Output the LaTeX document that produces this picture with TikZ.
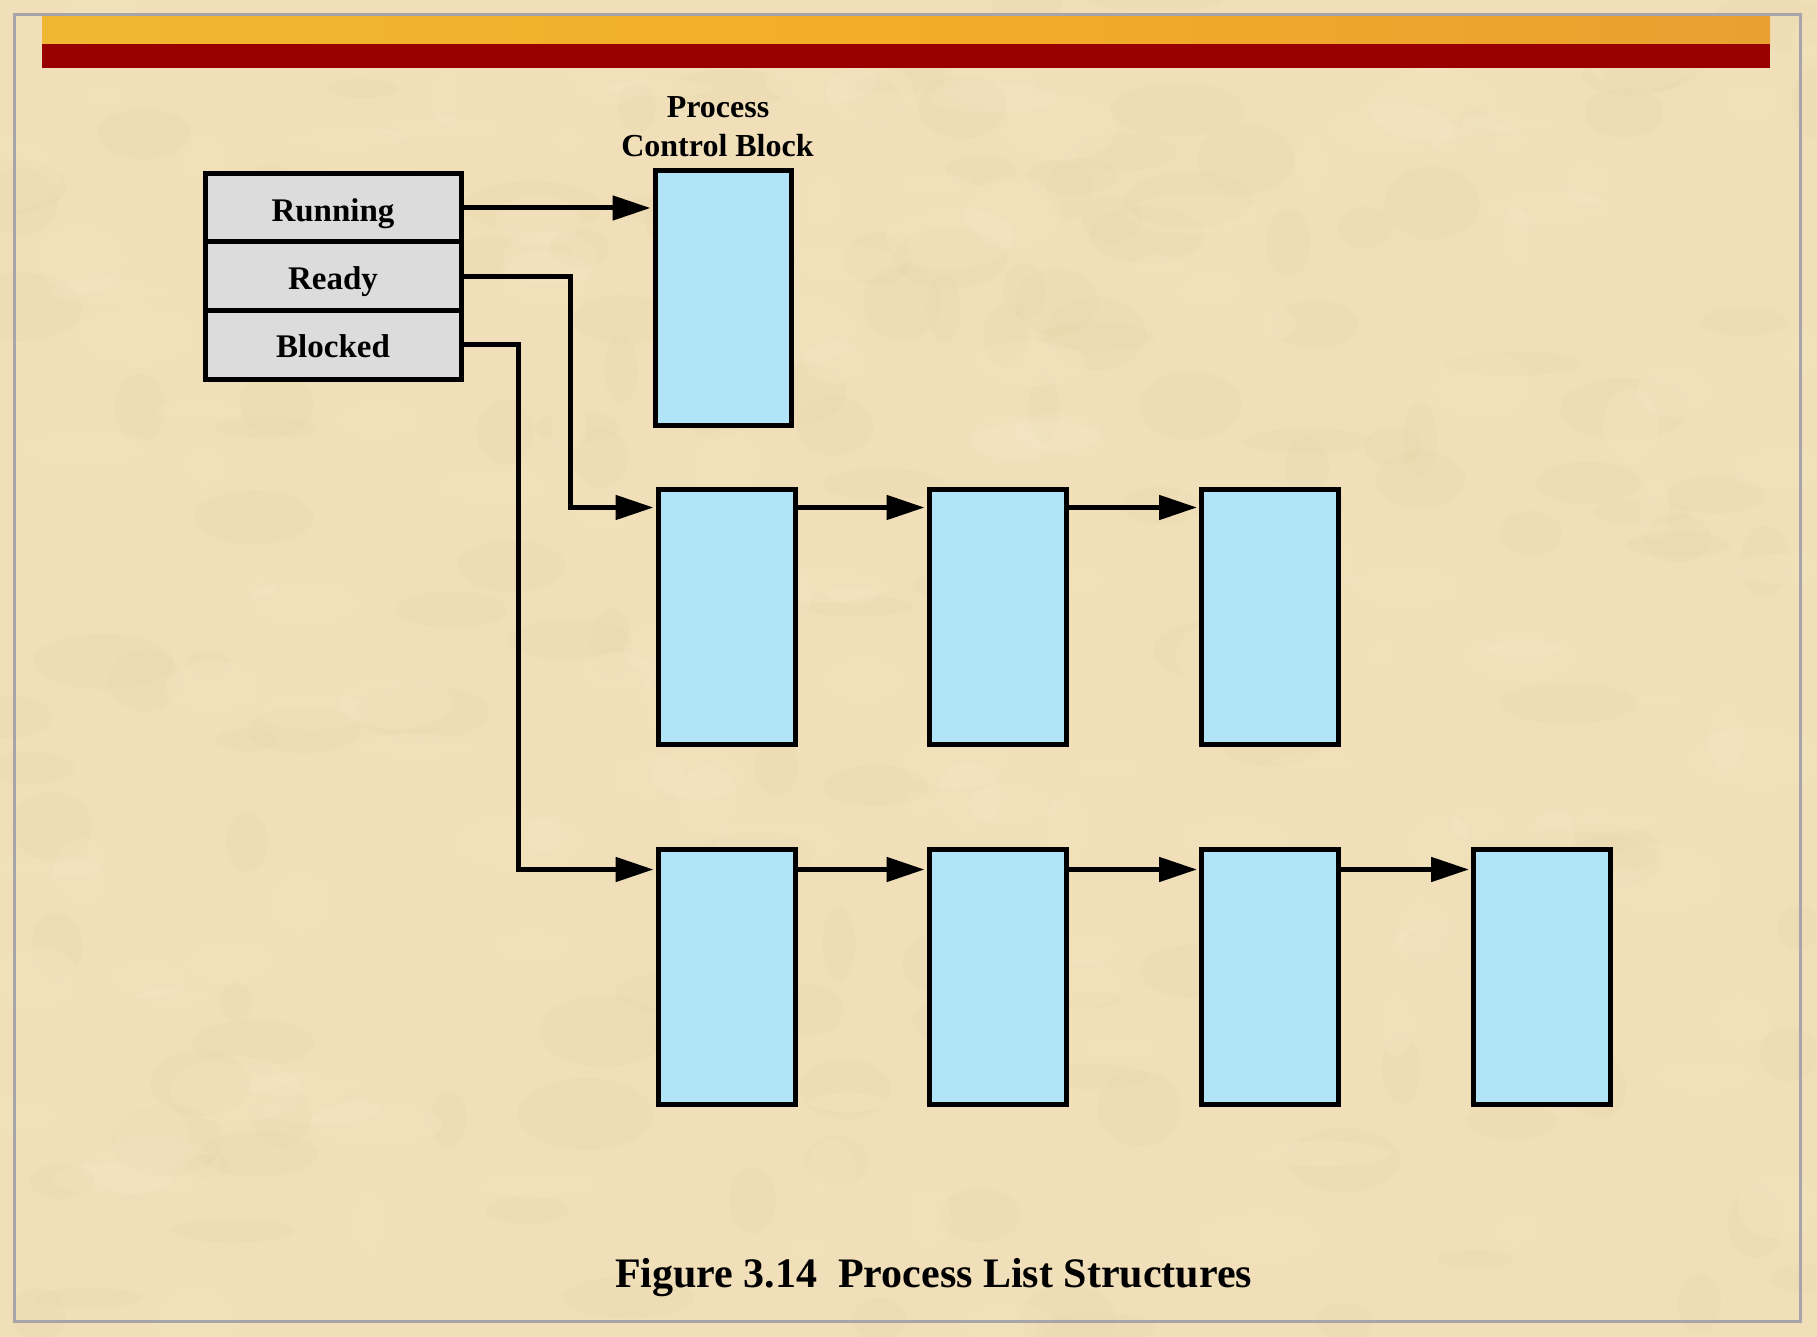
\documentclass[tikz,border=0pt]{standalone}
\usepackage{fontspec}
\setmainfont{Liberation Serif}
\usetikzlibrary{arrows.meta,calc}
\definecolor{parch}{RGB}{240,223,184}
\definecolor{parchlight}{RGB}{248,234,202}
\definecolor{parchdark}{RGB}{226,203,155}
\definecolor{barred}{RGB}{153,0,0}
\definecolor{goldA}{RGB}{240,184,50}
\definecolor{goldB}{RGB}{232,160,48}
\definecolor{framegray}{RGB}{165,165,170}
\definecolor{statefill}{RGB}{220,220,220}
\definecolor{pcbfill}{RGB}{176,228,246}
\tikzset{
  statebox/.style={draw=black, line width=5pt, fill=statefill, minimum width=256pt, minimum height=68pt, inner sep=0pt, text depth=0pt, font=\fontsize{33}{38}\selectfont\bfseries},
  pcbbox/.style={draw=black, line width=5pt, fill=pcbfill, minimum width=137pt, minimum height=255pt, inner sep=0pt},
  arr/.style={line width=5pt, shorten >=2pt, -{Triangle[length=38pt,width=24pt]}},
  lbl/.style={font=\fontsize{32}{38}\selectfont\bfseries, inner sep=0pt, anchor=base},
}
\begin{document}
\begin{tikzpicture}[x=1pt,y=-1pt]
\useasboundingbox (0,0) rectangle (1817,1337);
% background
\fill[parch] (0,0) rectangle (1817,1337);
\pgfmathsetseed{7}
\foreach \i in {1,...,320}{
  \pgfmathsetmacro{\px}{rnd*1817}
  \pgfmathsetmacro{\py}{rnd*1337}
  \pgfmathsetmacro{\rx}{15+rnd*55}
  \pgfmathsetmacro{\ry}{8+rnd*30}
  \pgfmathsetmacro{\c}{rnd}
  \ifdim\c pt<0.5pt
    \fill[parchlight,opacity=0.22] (\px,\py) ellipse [x radius=\rx, y radius=\ry];
  \else
    \fill[parchdark,opacity=0.10] (\px,\py) ellipse [x radius=\rx, y radius=\ry];
  \fi
}
% frame
\draw[framegray,line width=3pt] (14,15) rectangle (1800,1321);
% header bars
\shade[left color=goldA, right color=goldB, middle color=goldA!80!orange] (42,17) rectangle (1770,44);
\fill[barred] (42,44) rectangle (1770,68);

% state boxes
\node[statebox, text height=27.4pt] (run) at (333,208) {Running};
\node[statebox, minimum height=69pt, text height=27pt] (ready) at (333,276.5) {Ready};
\node[statebox, text height=26pt] (blocked) at (333,345) {Blocked};

% PCB label
\node[lbl] (pcblabelA) at (718,117.3) {Process};
\node[lbl] (pcblabelB) at (717.5,156.7) {Control Block};

% PCB boxes
\node[pcbbox, minimum width=136pt, minimum height=254pt] (pcb0) at (723,298) {};
\node[pcbbox] (r1) at (726.5,617) {};
\node[pcbbox] (r2) at (997.5,617) {};
\node[pcbbox] (r3) at (1270,617) {};
\node[pcbbox] (b1) at (726.5,976.5) {};
\node[pcbbox] (b2) at (997.5,976.5) {};
\node[pcbbox] (b3) at (1270,976.5) {};
\node[pcbbox] (b4) at (1542,976.5) {};

\coordinate (rin) at ($(r1.north west)+(0,20.5)$);
\coordinate (bin) at ($(b1.north west)+(0,23)$);

% connectors
\draw[arr] (run.east) -- (pcb0.west |- run.east);
\draw[arr] (ready.east) -- ++(107,0) |- (rin);
\draw[arr] (blocked.east) -- ++(55,0) |- (bin);
\draw[arr] (r1.east |- rin) -- (r2.west |- rin);
\draw[arr] (r2.east |- rin) -- (r3.west |- rin);
\draw[arr] (b1.east |- bin) -- (b2.west |- bin);
\draw[arr] (b2.east |- bin) -- (b3.west |- bin);
\draw[arr] (b3.east |- bin) -- (b4.west |- bin);

% caption
\node[font=\fontsize{42}{48}\selectfont\bfseries, inner sep=0pt, anchor=base] (caption) at (933.5,1287) {Figure 3.14\hspace{0.5em}Process List Structures};
\end{tikzpicture}
\end{document}
